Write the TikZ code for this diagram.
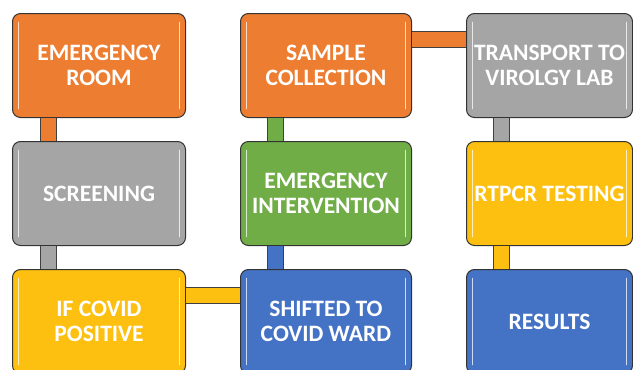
\documentclass[tikz,border=0pt]{standalone}
\usepackage{fontspec}
\setmainfont{Carlito}
\definecolor{cOrange}{HTML}{ED7D31}
\definecolor{cGrey}{HTML}{A5A5A5}
\definecolor{cYellow}{HTML}{FDC010}
\definecolor{cGreen}{HTML}{70AD47}
\definecolor{cBlue}{HTML}{4472C4}
\tikzset{
  box/.style={rectangle, rounded corners=8pt, draw=black!80, line width=1pt,
    fill=#1, text=white, anchor=north west, align=center, minimum height=104pt,
    inner sep=0pt,
    font=\fontsize{23.5}{25}\selectfont\bfseries,
    path picture={
      \draw[white, opacity=.75, line width=1.8pt, line cap=round]
        ([xshift=6pt,yshift=-9pt]path picture bounding box.north west) --
        ([xshift=6pt,yshift=9pt]path picture bounding box.south west);
      \draw[white, opacity=.75, line width=1.8pt, line cap=round]
        ([xshift=-6pt,yshift=-9pt]path picture bounding box.north east) --
        ([xshift=-6pt,yshift=9pt]path picture bounding box.south east);
    }},
  conn/.style={draw=black!75, line width=1pt, double=#1, double distance=15pt, line cap=butt}
}
\begin{document}
\begin{tikzpicture}[x=1pt,y=-1pt]
\useasboundingbox (0,0) rectangle (633,370);
\clip (0,0) rectangle (633,370);
\fill[white] (0,0) rectangle (633,370);
% boxes
\node[box=cOrange, minimum width=173pt] (er) at (12,13) {EMERGENCY\\ROOM};
\node[box=cGrey, minimum width=173pt] (scr) at (12,141) {SCREENING};
\node[box=cYellow, minimum width=173pt] (pos) at (12,269) {IF COVID\\POSITIVE};
\node[box=cOrange, minimum width=171pt] (samp) at (240,13) {SAMPLE\\COLLECTION};
\node[box=cGreen, minimum width=171pt] (int) at (240,141) {EMERGENCY\\INTERVENTION};
\node[box=cBlue, minimum width=171pt] (ward) at (240,269) {SHIFTED TO\\COVID WARD};
\node[box=cGrey, minimum width=166pt] (tr) at (466,13) {TRANSPORT TO\\VIROLGY LAB};
\node[box=cYellow, minimum width=166pt] (rt) at (466,141) {RTPCR TESTING};
\node[box=cBlue, minimum width=166pt] (res) at (466,269) {RESULTS};
% connectors
\draw[conn=cOrange] ([xshift=36pt]er.south west) -- ([xshift=36pt]scr.north west);
\draw[conn=cGrey] ([xshift=36pt]scr.south west) -- ([xshift=36pt]pos.north west);
\draw[conn=cYellow] ([yshift=-26pt]pos.north east) -- ([yshift=-26pt]ward.north west);
\draw[conn=cBlue] ([xshift=35pt]ward.north west) -- ([xshift=35pt]int.south west);
\draw[conn=cGreen] ([xshift=35pt]int.north west) -- ([xshift=35pt]samp.south west);
\draw[conn=cOrange] ([yshift=-26pt]samp.north east) -- ([yshift=-26pt]tr.north west);
\draw[conn=cGrey] ([xshift=35pt]tr.south west) -- ([xshift=35pt]rt.north west);
\draw[conn=cYellow] ([xshift=35pt]rt.south west) -- ([xshift=35pt]res.north west);
\end{tikzpicture}
\end{document}
